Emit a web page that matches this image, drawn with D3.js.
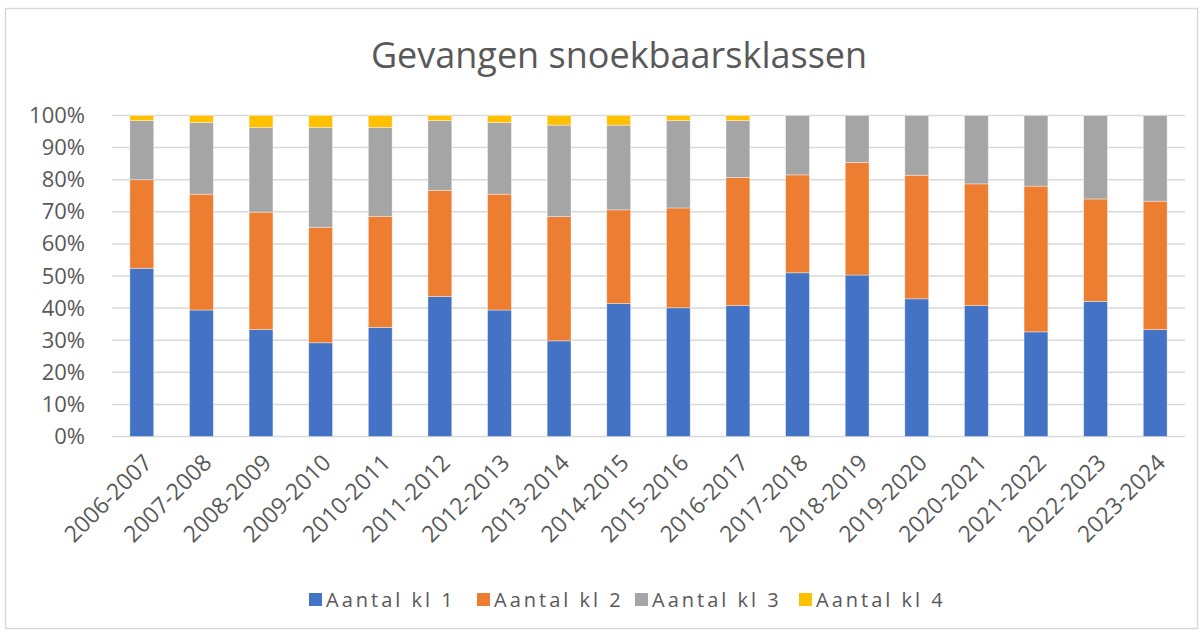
<!DOCTYPE html>
<html>
<head>
<meta charset="utf-8">
<script src="https://cdn.jsdelivr.net/npm/d3@7"></script>
<style>
  body { margin: 0; background: #fff; }
  text { font-family: "Open Sans", "Liberation Sans", sans-serif; fill: #595959; }
</style>
</head>
<body>
<div id="chart-area"></div>
<script>
var seasons = ["2006-2007","2007-2008","2008-2009","2009-2010","2010-2011","2011-2012",
               "2012-2013","2013-2014","2014-2015","2015-2016","2016-2017","2017-2018",
               "2018-2019","2019-2020","2020-2021","2021-2022","2022-2023","2023-2024"];

// share per class (%)
var kl1 = [52.4,39.4,33.3,29.2,34.0,43.6,39.4,29.8,41.4,40.1,40.8,51.0,50.3,42.9,40.8,32.6,42.1,33.3];
var kl2 = [27.6,36.1,36.6,36.0,34.6,33.1,36.1,38.7,29.2,31.1,39.9,30.5,35.1,38.5,37.9,45.4,31.9,40.0];
var kl3 = [18.4,22.3,26.4,31.1,27.7,21.7,22.3,28.5,26.4,27.2,17.7,18.5,14.6,18.6,21.3,22.0,26.0,26.7];
var kl4 = [1.6,2.2,3.7,3.7,3.7,1.6,2.2,3.0,3.0,1.6,1.6,0,0,0,0,0,0,0];

var series_names = ["Aantal kl 1","Aantal kl 2","Aantal kl 3","Aantal kl 4"];
var colors = ["#4472C4","#ED7D31","#A5A5A5","#FFC000"];
var y_ticks = [0,0.1,0.2,0.3,0.4,0.5,0.6,0.7,0.8,0.9,1];

var total_width = 1204;
var total_height = 633;

var svg = d3.select('#chart-area').append('svg')
            .attr("width",total_width)
            .attr("height",total_height);

// chart frame
svg.append("rect")
   .attr("x",5.5).attr("y",8.5)
   .attr("width",1192).attr("height",620)
   .attr("fill","#fff")
   .attr("stroke","#d9d9d9")
   .attr("stroke-width",1.5);

var margin = {top:115.5,left:112,right:19,bottom:196.5};
var width = total_width - margin.left - margin.right;
var height = total_height - margin.top - margin.bottom;

var rows = seasons.map(function(s,i){
  return {season:s, k1:kl1[i], k2:kl2[i], k3:kl3[i], k4:kl4[i]};
});

var stacked = d3.stack()
                .keys(["k1","k2","k3","k4"])
                .offset(d3.stackOffsetExpand)(rows);

var x = d3.scaleBand()
          .domain(seasons)
          .range([0,width])
          .paddingInner(0.6)
          .paddingOuter(0.3);

var y = d3.scaleLinear()
          .domain([0,1])
          .range([height,0]);

var g = svg.append('g')
           .attr("transform","translate("+margin.left+","+margin.top+")");

svg.append("text")
   .attr("x",619)
   .attr("y",68)
   .style("text-anchor","middle")
   .style("font-size","36px")
   .text("Gevangen snoekbaarsklassen");

// gridlines
g.append("g")
 .selectAll("line")
 .data(y_ticks)
 .enter().append("line")
 .attr("x1",0).attr("x2",width)
 .attr("y1",function(d){return y(d);})
 .attr("y2",function(d){return y(d);})
 .attr("stroke","#d9d9d9")
 .attr("stroke-width",1.5);

var yAxis = d3.axisLeft(y).tickValues(y_ticks).tickFormat(d3.format(".0%")).tickSize(0).tickPadding(27);
var ya = g.append("g").call(yAxis);
ya.select(".domain").remove();
ya.selectAll("text").style("font-size","22px").attr("fill","#595959");

// bars
g.append("g")
 .selectAll("g")
 .data(stacked)
 .enter().append("g")
 .attr("fill",function(d,i){return colors[i];})
 .selectAll("rect")
 .data(function(d){return d;})
 .enter().append("rect")
 .attr("x",function(d){return x(d.data.season);})
 .attr("y",function(d){return y(d[1]);})
 .attr("height",function(d){return y(d[0]) - y(d[1]);})
 .attr("width",x.bandwidth())
 .attr("stroke","#fff")
 .attr("stroke-opacity",0.5)
 .attr("stroke-width",0.75);

// x labels, rotated
g.append("g")
 .selectAll("text")
 .data(seasons)
 .enter().append("text")
 .attr("transform",function(d){
   return "translate("+(x(d)+x.bandwidth()/2+6)+","+(height+22)+") rotate(-45)";
 })
 .attr("dy","0.35em")
 .style("text-anchor","end")
 .style("font-size","23px")
 .text(function(d){return d;});

// legend
var legend_x = [309,477,635,799];
var legend = svg.append("g");
var items = legend.selectAll("g")
                  .data(series_names)
                  .enter().append("g")
                  .attr("transform",function(d,i){return "translate("+legend_x[i]+",593)";});
items.append("rect")
     .attr("width",13).attr("height",13)
     .attr("fill",function(d,i){return colors[i];});
items.append("text")
     .attr("x",17)
     .attr("y",14)
     .style("font-size","20px")
     .style("letter-spacing","3px")
     .text(function(d){return d;});
</script>
</body>
</html>
